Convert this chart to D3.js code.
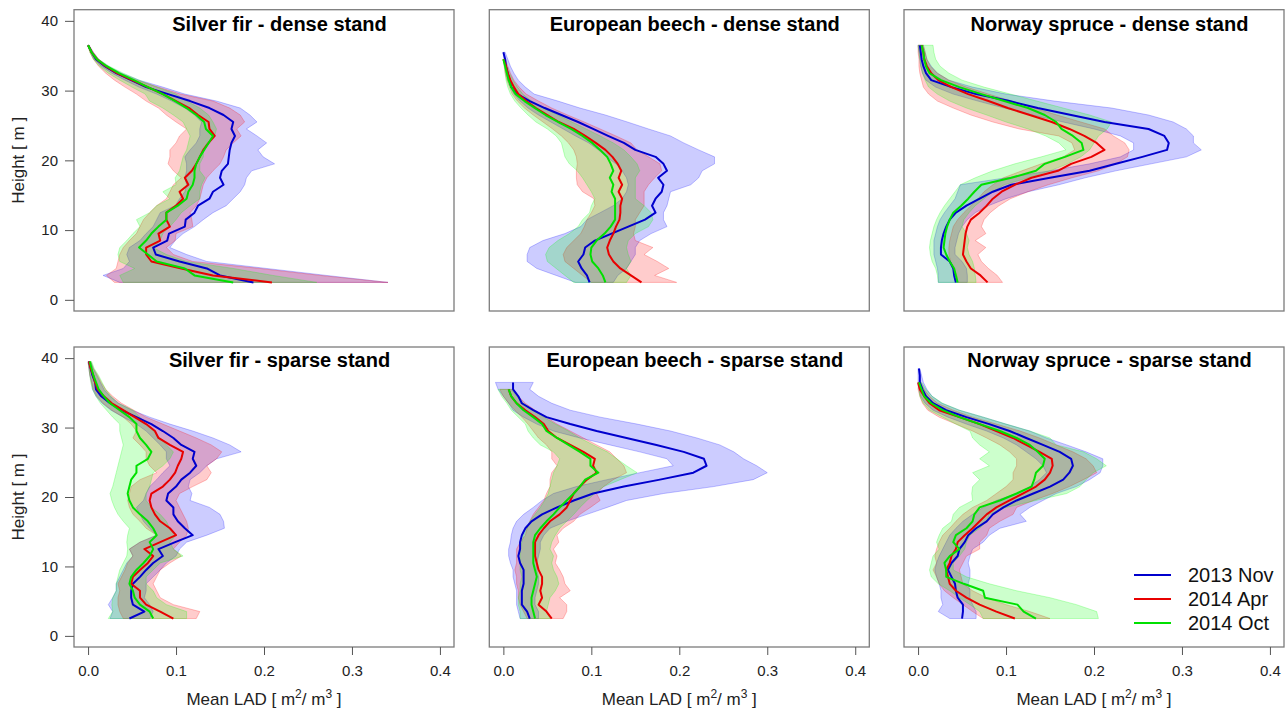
<!DOCTYPE html>
<html><head><meta charset="utf-8">
<script src="https://cdn.jsdelivr.net/npm/d3@7"></script>
<style>
body{margin:0;background:#fff}
svg{display:block}
text{font-family:"Liberation Sans",Arial,Helvetica,sans-serif;fill:#1a1a1a}
</style>
</head><body>
<svg id="chart" width="1288" height="712"></svg>
<script>
// ---------- labels / ticks ----------
const seriesNames = ["2013 Nov", "2014 Apr", "2014 Oct"];
const panelTitles = ["Silver fir - dense stand", "European beech - dense stand", "Norway spruce - dense stand",
                     "Silver fir - sparse stand", "European beech - sparse stand", "Norway spruce - sparse stand"];
const xTicks = [0, 0.1, 0.2, 0.3, 0.4];
const xTickLabels = ["0.0", "0.1", "0.2", "0.3", "0.4"];
const yTicks = [0, 10, 20, 30, 40];
const yTickLabels = ["0", "10", "20", "30", "40"];
const bottomHeight = 2.5; // lowest height layer [m]; arrays below run from the top layer down to it, 1 m apart

// ---------- Silver fir - dense ----------
const sfDenseNovMean = [0.000,0.004,0.009,0.019,0.032,0.049,0.066,0.091,0.116,0.138,0.154,0.165,0.163,0.167,0.163,0.161,0.160,0.159,0.152,0.150,0.154,0.142,0.138,0.125,0.121,0.111,0.110,0.092,0.090,0.074,0.077,0.104,0.135,0.150,0.188];
const sfDenseNovLo   = [0.000,0.003,0.007,0.015,0.027,0.042,0.058,0.078,0.095,0.110,0.121,0.129,0.127,0.127,0.123,0.116,0.110,0.112,0.112,0.110,0.112,0.110,0.104,0.099,0.082,0.078,0.074,0.066,0.059,0.047,0.044,0.047,0.040,0.017,0.036];
const sfDenseNovHi   = [0.001,0.006,0.012,0.023,0.038,0.058,0.085,0.110,0.146,0.173,0.184,0.192,0.180,0.192,0.203,0.193,0.199,0.212,0.186,0.180,0.178,0.173,0.165,0.157,0.142,0.131,0.121,0.108,0.099,0.093,0.112,0.135,0.203,0.271,0.341];
const sfDenseAprMean = [0.000,0.004,0.010,0.020,0.033,0.050,0.068,0.085,0.100,0.115,0.125,0.137,0.138,0.144,0.137,0.131,0.127,0.123,0.118,0.110,0.114,0.104,0.108,0.100,0.089,0.089,0.093,0.080,0.082,0.066,0.066,0.072,0.106,0.142,0.209];
const sfDenseAprLo   = [0.000,0.002,0.006,0.012,0.020,0.030,0.042,0.055,0.066,0.080,0.089,0.100,0.112,0.104,0.100,0.093,0.093,0.091,0.097,0.106,0.097,0.093,0.089,0.078,0.070,0.063,0.059,0.055,0.047,0.040,0.036,0.034,0.032,0.021,0.030];
const sfDenseAprHi   = [0.001,0.006,0.012,0.022,0.036,0.055,0.080,0.105,0.142,0.161,0.173,0.178,0.169,0.174,0.165,0.157,0.154,0.150,0.142,0.135,0.131,0.129,0.127,0.123,0.116,0.118,0.119,0.100,0.099,0.089,0.097,0.119,0.195,0.264,0.341];
const sfDenseOctMean = [0.000,0.004,0.010,0.021,0.035,0.052,0.068,0.085,0.099,0.112,0.123,0.132,0.134,0.142,0.137,0.132,0.127,0.123,0.121,0.121,0.119,0.114,0.112,0.102,0.089,0.089,0.080,0.072,0.066,0.058,0.068,0.078,0.110,0.121,0.165];
const sfDenseOctLo   = [0.000,0.002,0.006,0.013,0.023,0.036,0.050,0.065,0.070,0.085,0.097,0.108,0.112,0.116,0.114,0.112,0.108,0.106,0.104,0.099,0.100,0.085,0.093,0.078,0.070,0.055,0.059,0.051,0.044,0.036,0.034,0.036,0.053,0.036,0.040];
const sfDenseOctHi   = [0.001,0.005,0.012,0.024,0.040,0.058,0.078,0.100,0.112,0.127,0.137,0.142,0.146,0.144,0.135,0.131,0.131,0.127,0.127,0.133,0.129,0.127,0.127,0.116,0.106,0.100,0.093,0.085,0.082,0.074,0.089,0.112,0.165,0.210,0.260];

// ---------- European beech - dense ----------
const ebDenseNovMean = [0.000,0.002,0.003,0.005,0.007,0.009,0.016,0.030,0.047,0.066,0.085,0.102,0.119,0.137,0.150,0.173,0.182,0.186,0.176,0.182,0.180,0.173,0.169,0.173,0.161,0.142,0.123,0.104,0.093,0.091,0.085,0.089,0.095,0.098];
const ebDenseNovLo   = [0.000,0.001,0.002,0.003,0.005,0.008,0.012,0.019,0.028,0.040,0.054,0.068,0.082,0.097,0.108,0.117,0.128,0.135,0.140,0.142,0.140,0.135,0.125,0.110,0.095,0.088,0.070,0.045,0.030,0.027,0.027,0.038,0.060,0.082];
const ebDenseNovHi   = [0.002,0.005,0.008,0.012,0.017,0.025,0.035,0.062,0.087,0.116,0.141,0.165,0.190,0.205,0.222,0.240,0.240,0.226,0.222,0.213,0.190,0.188,0.186,0.182,0.182,0.186,0.168,0.155,0.150,0.150,0.145,0.140,0.130,0.125];
const ebDenseAprMean = [0.000,0.003,0.005,0.008,0.012,0.017,0.026,0.037,0.050,0.063,0.080,0.093,0.105,0.116,0.124,0.130,0.134,0.131,0.135,0.131,0.135,0.133,0.133,0.132,0.128,0.125,0.121,0.118,0.120,0.125,0.133,0.145,0.157];
const ebDenseAprLo   = [0.000,0.001,0.002,0.004,0.007,0.010,0.016,0.024,0.034,0.045,0.056,0.066,0.074,0.080,0.083,0.084,0.083,0.083,0.084,0.090,0.103,0.104,0.100,0.095,0.092,0.088,0.080,0.072,0.068,0.070,0.080,0.090,0.100];
const ebDenseAprHi   = [0.002,0.005,0.008,0.012,0.018,0.026,0.040,0.055,0.073,0.092,0.110,0.128,0.145,0.152,0.165,0.178,0.180,0.172,0.165,0.160,0.160,0.160,0.155,0.150,0.150,0.148,0.150,0.170,0.160,0.175,0.188,0.172,0.197];
const ebDenseOctMean = [0.000,0.002,0.004,0.006,0.009,0.014,0.024,0.036,0.048,0.062,0.077,0.090,0.101,0.110,0.118,0.122,0.125,0.121,0.125,0.123,0.127,0.127,0.127,0.127,0.122,0.115,0.106,0.100,0.099,0.101,0.108,0.113,0.116];
const ebDenseOctLo   = [0.000,0.001,0.002,0.003,0.005,0.008,0.013,0.020,0.028,0.037,0.050,0.060,0.066,0.068,0.070,0.075,0.084,0.090,0.095,0.100,0.104,0.100,0.098,0.090,0.085,0.075,0.062,0.052,0.048,0.050,0.060,0.070,0.080];
const ebDenseOctHi   = [0.001,0.004,0.007,0.011,0.016,0.022,0.032,0.046,0.062,0.078,0.094,0.110,0.125,0.137,0.145,0.152,0.155,0.150,0.150,0.150,0.150,0.160,0.168,0.170,0.165,0.150,0.142,0.140,0.142,0.145,0.140,0.145,0.140];

// ---------- Norway spruce - dense ----------
const nsDenseNovMean = [0.002,0.003,0.004,0.006,0.009,0.015,0.038,0.066,0.104,0.136,0.174,0.212,0.262,0.280,0.285,0.283,0.255,0.225,0.195,0.150,0.106,0.085,0.070,0.055,0.043,0.036,0.032,0.029,0.027,0.026,0.026,0.036,0.040,0.041,0.043];
const nsDenseNovLo   = [0.000,0.001,0.002,0.003,0.005,0.009,0.020,0.040,0.068,0.098,0.130,0.165,0.200,0.230,0.245,0.245,0.230,0.195,0.150,0.100,0.048,0.045,0.042,0.036,0.030,0.025,0.022,0.020,0.018,0.018,0.018,0.020,0.022,0.023,0.023];
const nsDenseNovHi   = [0.006,0.008,0.010,0.015,0.022,0.035,0.062,0.100,0.155,0.220,0.262,0.290,0.305,0.313,0.313,0.322,0.305,0.265,0.225,0.190,0.160,0.125,0.100,0.080,0.065,0.056,0.050,0.046,0.044,0.042,0.042,0.050,0.055,0.056,0.056];
const nsDenseAprMean = [0.004,0.006,0.007,0.010,0.015,0.023,0.038,0.057,0.080,0.102,0.127,0.152,0.172,0.189,0.203,0.212,0.197,0.174,0.159,0.129,0.110,0.095,0.085,0.078,0.070,0.060,0.056,0.054,0.053,0.052,0.051,0.055,0.060,0.071,0.079];
const nsDenseAprLo   = [0.000,0.000,0.001,0.001,0.002,0.004,0.006,0.012,0.022,0.040,0.060,0.085,0.115,0.160,0.175,0.178,0.165,0.140,0.118,0.097,0.085,0.075,0.068,0.060,0.052,0.045,0.040,0.038,0.036,0.035,0.035,0.037,0.040,0.044,0.045];
const nsDenseAprHi   = [0.006,0.008,0.010,0.014,0.022,0.035,0.055,0.080,0.106,0.132,0.158,0.185,0.212,0.222,0.235,0.240,0.238,0.225,0.205,0.175,0.148,0.125,0.105,0.092,0.082,0.075,0.072,0.077,0.065,0.077,0.068,0.072,0.080,0.090,0.096];
const nsDenseOctMean = [0.004,0.006,0.007,0.009,0.013,0.026,0.047,0.072,0.098,0.125,0.144,0.157,0.163,0.176,0.186,0.188,0.167,0.144,0.134,0.106,0.072,0.064,0.057,0.049,0.040,0.036,0.033,0.031,0.030,0.029,0.032,0.036,0.041,0.043,0.045];
const nsDenseOctLo   = [0.000,0.001,0.002,0.003,0.005,0.008,0.012,0.022,0.036,0.055,0.078,0.100,0.125,0.145,0.160,0.168,0.140,0.110,0.085,0.065,0.048,0.042,0.036,0.030,0.025,0.021,0.018,0.016,0.014,0.013,0.014,0.016,0.020,0.022,0.023];
const nsDenseOctHi   = [0.017,0.018,0.020,0.025,0.035,0.050,0.075,0.105,0.135,0.165,0.195,0.220,0.215,0.205,0.200,0.195,0.185,0.170,0.150,0.125,0.098,0.085,0.075,0.065,0.058,0.052,0.050,0.055,0.058,0.056,0.058,0.062,0.064,0.065,0.066];

// ---------- Silver fir - sparse ----------
const sfSparseNovMean = [0.001,0.003,0.005,0.008,0.009,0.015,0.025,0.038,0.055,0.072,0.085,0.097,0.106,0.121,0.119,0.123,0.116,0.106,0.100,0.091,0.089,0.097,0.097,0.102,0.110,0.119,0.099,0.080,0.085,0.074,0.066,0.059,0.051,0.049,0.049,0.051,0.064,0.047];
const sfSparseNovLo   = [0.000,0.001,0.002,0.004,0.005,0.009,0.016,0.026,0.040,0.055,0.066,0.074,0.082,0.089,0.089,0.093,0.085,0.078,0.070,0.066,0.063,0.055,0.059,0.063,0.070,0.078,0.059,0.047,0.051,0.044,0.040,0.036,0.032,0.032,0.028,0.023,0.028,0.025];
const sfSparseNovHi   = [0.003,0.006,0.010,0.014,0.018,0.025,0.035,0.050,0.070,0.093,0.119,0.142,0.161,0.174,0.146,0.135,0.127,0.116,0.114,0.118,0.116,0.138,0.150,0.154,0.155,0.135,0.112,0.104,0.100,0.089,0.082,0.074,0.066,0.066,0.064,0.070,0.074,0.070];
const sfSparseAprMean = [0.001,0.003,0.006,0.008,0.011,0.018,0.027,0.040,0.053,0.066,0.076,0.080,0.093,0.108,0.106,0.102,0.099,0.093,0.085,0.072,0.070,0.072,0.076,0.082,0.093,0.100,0.082,0.064,0.074,0.068,0.059,0.051,0.049,0.059,0.059,0.066,0.082,0.097];
const sfSparseAprLo   = [0.000,0.001,0.002,0.004,0.006,0.010,0.017,0.027,0.040,0.049,0.055,0.051,0.059,0.066,0.066,0.070,0.078,0.059,0.049,0.047,0.045,0.047,0.051,0.059,0.066,0.078,0.059,0.047,0.051,0.045,0.042,0.038,0.034,0.036,0.034,0.034,0.036,0.040];
const sfSparseAprHi   = [0.003,0.006,0.011,0.015,0.020,0.028,0.038,0.052,0.066,0.085,0.104,0.123,0.140,0.152,0.146,0.135,0.140,0.135,0.119,0.104,0.100,0.104,0.108,0.112,0.114,0.112,0.104,0.097,0.106,0.093,0.082,0.078,0.074,0.078,0.082,0.097,0.127,0.123];
const sfSparseOctMean = [0.002,0.004,0.006,0.009,0.012,0.018,0.025,0.036,0.047,0.055,0.055,0.059,0.066,0.072,0.068,0.055,0.055,0.049,0.047,0.045,0.047,0.051,0.059,0.068,0.074,0.078,0.070,0.074,0.070,0.063,0.055,0.049,0.047,0.051,0.053,0.059,0.070,0.074];
const sfSparseOctLo   = [0.000,0.001,0.002,0.003,0.005,0.009,0.014,0.021,0.028,0.036,0.036,0.038,0.040,0.038,0.036,0.034,0.032,0.030,0.028,0.025,0.027,0.030,0.034,0.040,0.047,0.045,0.044,0.045,0.044,0.040,0.036,0.034,0.032,0.032,0.028,0.027,0.028,0.023];
const sfSparseOctHi   = [0.004,0.007,0.012,0.016,0.020,0.026,0.034,0.051,0.059,0.066,0.074,0.082,0.089,0.097,0.093,0.085,0.074,0.072,0.070,0.066,0.066,0.072,0.082,0.089,0.093,0.100,0.093,0.097,0.108,0.082,0.074,0.066,0.066,0.074,0.078,0.089,0.112,0.112];

// ---------- European beech - sparse ----------
const ebSparseNovMean = [0.011,0.011,0.017,0.021,0.034,0.049,0.076,0.106,0.140,0.174,0.205,0.228,0.231,0.216,0.178,0.137,0.102,0.080,0.061,0.044,0.032,0.025,0.021,0.019,0.019,0.017,0.019,0.023,0.023,0.023,0.021,0.021,0.021,0.027,0.030];
const ebSparseNovLo   = [-0.009,-0.006,0.000,0.006,0.011,0.023,0.038,0.057,0.087,0.121,0.155,0.186,0.193,0.155,0.118,0.083,0.057,0.044,0.034,0.023,0.015,0.011,0.009,0.008,0.006,0.006,0.008,0.011,0.011,0.013,0.015,0.015,0.015,0.017,0.019];
const ebSparseNovHi   = [0.034,0.030,0.040,0.055,0.076,0.110,0.152,0.190,0.220,0.246,0.262,0.273,0.288,0.300,0.284,0.239,0.182,0.140,0.118,0.095,0.072,0.053,0.046,0.042,0.042,0.040,0.038,0.038,0.040,0.040,0.038,0.036,0.036,0.040,0.040];
const ebSparseAprMean = [0.006,0.009,0.015,0.025,0.036,0.046,0.051,0.061,0.076,0.091,0.104,0.102,0.106,0.095,0.087,0.080,0.076,0.072,0.064,0.053,0.046,0.040,0.036,0.036,0.036,0.038,0.040,0.044,0.044,0.042,0.044,0.040,0.049,0.055];
const ebSparseAprLo   = [-0.004,0.000,0.006,0.013,0.021,0.028,0.034,0.040,0.049,0.055,0.055,0.061,0.055,0.053,0.053,0.049,0.046,0.040,0.034,0.030,0.027,0.025,0.019,0.015,0.015,0.015,0.013,0.015,0.015,0.017,0.017,0.019,0.023,0.027];
const ebSparseAprHi   = [0.011,0.017,0.025,0.036,0.049,0.061,0.076,0.091,0.106,0.121,0.129,0.137,0.140,0.125,0.114,0.106,0.110,0.099,0.087,0.080,0.068,0.061,0.063,0.057,0.061,0.059,0.064,0.068,0.070,0.076,0.064,0.072,0.072,0.068];
const ebSparseOctMean = [0.006,0.009,0.015,0.023,0.034,0.044,0.049,0.061,0.074,0.087,0.099,0.099,0.108,0.093,0.087,0.080,0.072,0.064,0.057,0.049,0.042,0.036,0.034,0.034,0.034,0.034,0.036,0.038,0.036,0.034,0.032,0.032,0.034,0.036];
const ebSparseOctLo   = [-0.006,-0.002,0.004,0.009,0.017,0.025,0.028,0.034,0.042,0.057,0.064,0.061,0.057,0.055,0.053,0.051,0.047,0.042,0.036,0.030,0.027,0.023,0.021,0.019,0.019,0.019,0.019,0.021,0.019,0.019,0.017,0.017,0.019,0.019];
const ebSparseOctHi   = [0.009,0.015,0.023,0.034,0.046,0.059,0.074,0.087,0.102,0.118,0.129,0.140,0.152,0.133,0.114,0.104,0.095,0.087,0.080,0.072,0.064,0.059,0.055,0.053,0.057,0.055,0.057,0.061,0.063,0.059,0.053,0.051,0.049,0.053];

// ---------- Norway spruce - sparse ----------
const nsSparseNovMean = [0.001,0.002,0.002,0.005,0.009,0.017,0.032,0.055,0.081,0.104,0.123,0.142,0.161,0.174,0.176,0.172,0.165,0.150,0.131,0.112,0.097,0.085,0.078,0.066,0.057,0.053,0.047,0.045,0.038,0.034,0.038,0.042,0.043,0.045,0.051,0.051,0.050];
const nsSparseNovLo   = [0.000,0.000,0.000,0.001,0.003,0.008,0.017,0.034,0.055,0.078,0.097,0.112,0.123,0.134,0.142,0.146,0.138,0.127,0.112,0.089,0.074,0.062,0.051,0.043,0.036,0.032,0.028,0.024,0.021,0.019,0.021,0.024,0.026,0.026,0.028,0.023,0.036];
const nsSparseNovHi   = [0.002,0.004,0.006,0.010,0.016,0.027,0.047,0.074,0.100,0.127,0.146,0.169,0.191,0.210,0.210,0.207,0.195,0.180,0.157,0.142,0.127,0.116,0.123,0.093,0.081,0.074,0.062,0.059,0.057,0.059,0.059,0.057,0.059,0.059,0.062,0.066,0.066];
const nsSparseAprMean = [0.000,0.002,0.007,0.013,0.024,0.047,0.070,0.089,0.108,0.123,0.138,0.152,0.153,0.150,0.144,0.134,0.119,0.104,0.089,0.078,0.070,0.062,0.053,0.045,0.043,0.038,0.036,0.032,0.034,0.036,0.043,0.055,0.070,0.089,0.110];
const nsSparseAprLo   = [0.000,0.000,0.002,0.005,0.011,0.024,0.043,0.062,0.078,0.093,0.104,0.112,0.112,0.108,0.108,0.100,0.089,0.078,0.062,0.051,0.043,0.036,0.028,0.024,0.021,0.019,0.021,0.017,0.021,0.024,0.030,0.040,0.051,0.062,0.074];
const nsSparseAprHi   = [0.003,0.007,0.013,0.022,0.040,0.062,0.089,0.116,0.138,0.157,0.176,0.191,0.199,0.203,0.188,0.172,0.153,0.131,0.112,0.108,0.093,0.081,0.078,0.070,0.070,0.055,0.051,0.047,0.049,0.051,0.062,0.078,0.100,0.127,0.150];
const nsSparseOctMean = [0.001,0.004,0.007,0.015,0.028,0.047,0.070,0.093,0.112,0.127,0.136,0.144,0.142,0.134,0.132,0.129,0.112,0.093,0.070,0.064,0.062,0.055,0.043,0.040,0.047,0.036,0.030,0.032,0.032,0.052,0.074,0.076,0.113,0.120,0.134];
const nsSparseOctLo   = [0.000,0.001,0.002,0.006,0.013,0.028,0.043,0.059,0.062,0.070,0.081,0.070,0.081,0.062,0.070,0.062,0.061,0.062,0.047,0.040,0.038,0.028,0.024,0.021,0.024,0.017,0.015,0.013,0.015,0.023,0.036,0.047,0.059,0.070,0.074];
const nsSparseOctHi   = [0.004,0.009,0.016,0.028,0.047,0.074,0.100,0.127,0.150,0.157,0.188,0.203,0.214,0.199,0.191,0.184,0.169,0.134,0.100,0.081,0.078,0.070,0.059,0.055,0.053,0.047,0.040,0.040,0.055,0.081,0.112,0.150,0.180,0.203,0.205];

// ---------- assemble panels ----------
const panelSeries = [
  [[sfDenseNovMean, sfDenseNovLo, sfDenseNovHi], [sfDenseAprMean, sfDenseAprLo, sfDenseAprHi], [sfDenseOctMean, sfDenseOctLo, sfDenseOctHi]],
  [[ebDenseNovMean, ebDenseNovLo, ebDenseNovHi], [ebDenseAprMean, ebDenseAprLo, ebDenseAprHi], [ebDenseOctMean, ebDenseOctLo, ebDenseOctHi]],
  [[nsDenseNovMean, nsDenseNovLo, nsDenseNovHi], [nsDenseAprMean, nsDenseAprLo, nsDenseAprHi], [nsDenseOctMean, nsDenseOctLo, nsDenseOctHi]],
  [[sfSparseNovMean, sfSparseNovLo, sfSparseNovHi], [sfSparseAprMean, sfSparseAprLo, sfSparseAprHi], [sfSparseOctMean, sfSparseOctLo, sfSparseOctHi]],
  [[ebSparseNovMean, ebSparseNovLo, ebSparseNovHi], [ebSparseAprMean, ebSparseAprLo, ebSparseAprHi], [ebSparseOctMean, ebSparseOctLo, ebSparseOctHi]],
  [[nsSparseNovMean, nsSparseNovLo, nsSparseNovHi], [nsSparseAprMean, nsSparseAprLo, nsSparseAprHi], [nsSparseOctMean, nsSparseOctLo, nsSparseOctHi]]
];

// ---------- styling / layout ----------
const lineColors = ["#0000CD", "#E80000", "#00E000"];
const fillColors = ["rgba(0,0,255,0.2)", "rgba(255,0,0,0.2)", "rgba(0,255,0,0.2)"];
const edgeColors = ["rgba(0,0,255,0.3)", "rgba(255,0,0,0.3)", "rgba(0,255,0,0.3)"];
const colLeft = [74, 489.3, 904];
const rowTop = [9.7, 347];
const rowHeight = [301.3, 300];
const panelWidth = 380;

const svg = d3.select("#chart");
svg.append("rect").attr("width", 1288).attr("height", 712).attr("fill", "#fff");

panelSeries.forEach((series, p) => {
  const col = p % 3, row = Math.floor(p / 3);
  const x0 = colLeft[col], y0 = rowTop[row], h = rowHeight[row];
  const x = d3.scaleLinear().domain([-0.016, 0.416]).range([x0, x0 + panelWidth]);
  const y = d3.scaleLinear().domain([-1.6, 41.6]).range([y0 + h, y0]);
  const g = svg.append("g");

  const rows = series.map(([mean, lo, hi]) => mean.map((m, i) => ({
    h: bottomHeight + (mean.length - 1 - i), m: m, lo: lo[i], hi: hi[i]
  })));

  const area = d3.area().x0(d => x(d.lo)).x1(d => x(d.hi)).y(d => y(d.h));
  const line = d3.line().x(d => x(d.m)).y(d => y(d.h));

  rows.forEach((r, s) => {
    g.append("path").attr("d", area(r)).attr("fill", fillColors[s])
      .attr("stroke", edgeColors[s]).attr("stroke-width", 0.8);
  });
  rows.forEach((r, s) => {
    g.append("path").attr("d", line(r)).attr("fill", "none")
      .attr("stroke", lineColors[s]).attr("stroke-width", 2).attr("stroke-linejoin", "round");
  });

  // box
  g.append("rect").attr("x", x0).attr("y", y0).attr("width", panelWidth).attr("height", h)
    .attr("fill", "none").attr("stroke", "#7c7c7c").attr("stroke-width", 1.3);

  // title
  g.append("text").attr("x", x0 + panelWidth / 2 + 15.5).attr("y", y0 + (row === 0 ? 21 : 20))
    .attr("text-anchor", "middle").attr("font-size", 20).attr("font-weight", "bold")
    .style("fill", "#000").text(panelTitles[p]);

  // y axis (left column)
  if (col === 0) {
    const ax = d3.axisLeft(y).tickValues(yTicks).tickFormat((d, i) => yTickLabels[i])
      .tickSize(9).tickSizeOuter(0).tickPadding(7);
    const ga = g.append("g").attr("transform", `translate(${x0},0)`).call(ax);
    ga.select(".domain").remove();
    ga.selectAll(".tick line").attr("stroke", "#555");
    ga.selectAll(".tick text").attr("font-size", 15).attr("font-family", null).style("fill", "#222");
    g.append("text").attr("transform", `translate(24,${y0 + h / 2}) rotate(-90)`)
      .attr("text-anchor", "middle").attr("font-size", 17).style("fill", "#222").text("Height [ m ]");
  }
  // x axis (bottom row)
  if (row === 1) {
    const ax = d3.axisBottom(x).tickValues(xTicks).tickFormat((d, i) => xTickLabels[i])
      .tickSize(8).tickSizeOuter(0).tickPadding(10);
    const ga = g.append("g").attr("transform", `translate(0,${y0 + h})`).call(ax);
    ga.select(".domain").remove();
    ga.selectAll(".tick line").attr("stroke", "#555");
    ga.selectAll(".tick text").attr("font-size", 15).attr("font-family", null).style("fill", "#222");
    const t = g.append("text").attr("x", x0 + panelWidth / 2).attr("y", 705)
      .attr("text-anchor", "middle").attr("font-size", 17).style("fill", "#222");
    t.append("tspan").text("Mean LAD [ m");
    t.append("tspan").attr("font-size", 12).attr("dy", -7).text("2");
    t.append("tspan").attr("dy", 7).text("/ m");
    t.append("tspan").attr("font-size", 12).attr("dy", -7).text("3");
    t.append("tspan").attr("dy", 7).text(" ]");
  }

  // legend in last panel
  if (p === 5) {
    const lg = g.append("g");
    seriesNames.forEach((name, s) => {
      const ly = 575 + s * 24;
      lg.append("line").attr("x1", 1134).attr("x2", 1171).attr("y1", ly).attr("y2", ly)
        .attr("stroke", lineColors[s]).attr("stroke-width", 2);
      lg.append("text").attr("x", 1188).attr("y", ly + 7).attr("font-size", 20)
        .style("fill", "#111").text(name);
    });
  }
});
</script>
</body></html>
